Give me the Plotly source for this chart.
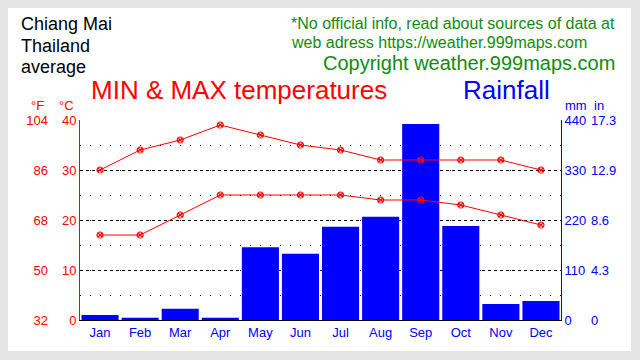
import plotly.graph_objects as go

months = ['Jan', 'Feb', 'Mar', 'Apr', 'May', 'Jun', 'Jul', 'Aug', 'Sep', 'Oct', 'Nov', 'Dec']
tmax_c = [30, 34, 36, 39, 37, 35, 34, 32, 32, 32, 32, 30]
tmin_c = [17, 17, 21, 25, 25, 25, 25, 24, 24, 23, 21, 19]
rain_mm = [11, 5, 25, 5, 160, 146, 205, 227, 431, 207, 35, 42]

c_ticks = [0, 10, 20, 30, 40]
f_ticks = [32, 50, 68, 86, 104]
mm_ticks = [0, 110, 220, 330, 440]
in_ticks = [0, 4.3, 8.6, 12.9, 17.3]
in_labels = ['0', '4.3', '8.6', '12.9', '17.3']

W, H = 640, 360
FONT = "Liberation Sans, Arial, sans-serif"
RED = '#ff0000'
BLUE = '#0000ff'
GREEN = '#138a13'
GREY = '#e4e4e4'


def px(x):
    return x / W


def py(y):
    return 1 - y / H


fig = go.Figure()

fig.add_trace(go.Bar(x=months, y=rain_mm, marker=dict(color=BLUE, line=dict(width=0)),
                     yaxis='y', showlegend=False))
fig.add_trace(go.Scatter(x=months, y=tmax_c, yaxis='y2', mode='lines+markers',
                         line=dict(color=RED, width=1),
                         marker=dict(symbol='circle-x-open', size=6, color=RED, line=dict(width=1.2)),
                         showlegend=False))
fig.add_trace(go.Scatter(x=months, y=tmin_c, yaxis='y2', mode='lines+markers',
                         line=dict(color=RED, width=1),
                         marker=dict(symbol='circle-x-open', size=6, color=RED, line=dict(width=1.2)),
                         showlegend=False))

x0, x1 = px(80), px(561)
y0, y1 = py(320), py(120)

fig.update_layout(
    width=W, height=H,
    margin=dict(l=0, r=0, t=0, b=0, pad=0),
    paper_bgcolor=GREY,
    plot_bgcolor='white',
    font=dict(family=FONT, size=13),
    bargap=0.075,
    xaxis=dict(domain=[x0, x1], range=[-0.5, 11.5], showline=True, linecolor='black', linewidth=1,
               ticks='', tickfont=dict(color=BLUE, size=13), showgrid=False, automargin=False,
               fixedrange=True),
    yaxis=dict(domain=[y0, y1], range=[0, 440], side='right', tickvals=mm_ticks,
               showline=True, linecolor=BLUE, linewidth=1, ticks='',
               tickfont=dict(color=BLUE, size=13),
               showgrid=True, gridcolor='black', gridwidth=1, griddash='3px,3px', zeroline=False,
               minor=dict(dtick=55, showgrid=True, gridcolor='black', gridwidth=1, griddash='1px,9px'),
               automargin=False),
    yaxis2=dict(range=[0, 40], overlaying='y', side='left', anchor='x', tickvals=c_ticks,
                showline=True, linecolor=RED, linewidth=1, ticks='',
                tickfont=dict(color=RED, size=13), showgrid=False, zeroline=False, automargin=False),
    yaxis3=dict(range=[32, 104], overlaying='y', side='left', anchor='free', position=px(48),
                tickvals=f_ticks, showline=False, ticks='', tickfont=dict(color=RED, size=13),
                showgrid=False, zeroline=False, automargin=False),
    yaxis4=dict(range=[0, 17.3], overlaying='y', side='right', anchor='free', position=px(590),
                tickvals=in_ticks, ticktext=in_labels, showline=False, ticks='',
                tickfont=dict(color=BLUE, size=13), showgrid=False, zeroline=False, automargin=False),
)

# invisible traces so the °F and inch axes are drawn
fig.add_trace(go.Scatter(x=[months[0]], y=[0], yaxis='y4', mode='markers',
                         marker=dict(opacity=0), showlegend=False, hoverinfo='skip'))
fig.add_trace(go.Scatter(x=[months[0]], y=[32], yaxis='y3', mode='markers',
                         marker=dict(opacity=0), showlegend=False, hoverinfo='skip'))

# white panel
fig.add_shape(type='rect', xref='paper', yref='paper', x0=px(8), x1=px(631), y0=py(351), y1=py(8),
              fillcolor='white', line=dict(width=0), layer='below')


def ann(text, x, y, size, color, xanchor='left'):
    fig.add_annotation(text=text, x=px(x), y=py(y), xref='paper', yref='paper',
                       xanchor=xanchor, yanchor='middle', showarrow=False,
                       font=dict(family=FONT, size=size, color=color))


ann('Chiang Mai', 19, 24, 18, 'black')
ann('Thailand', 19, 46, 18, 'black')
ann('average', 19, 67, 18, 'black')
ann('*No official info, read about sources of data at', 289, 24, 16, GREEN)
ann('web adress https://weather.999maps.com', 289, 42, 16, GREEN)
ann('Copyright weather.999maps.com', 321, 63, 20, GREEN)
ann('MIN &amp; MAX temperatures', 89, 90, 26, RED)
ann('Rainfall', 461, 90, 26, BLUE)
ann('°F', 46, 105, 13, RED, 'right')
ann('°C', 76, 105, 13, RED, 'right')
ann('mm', 563, 105, 13, BLUE)
ann('in', 592, 105, 13, BLUE)

fig.write_html('out.html', config={'displayModeBar': False},
               post_script="document.body.style.margin='0';document.body.style.background='%s';" % GREY)
